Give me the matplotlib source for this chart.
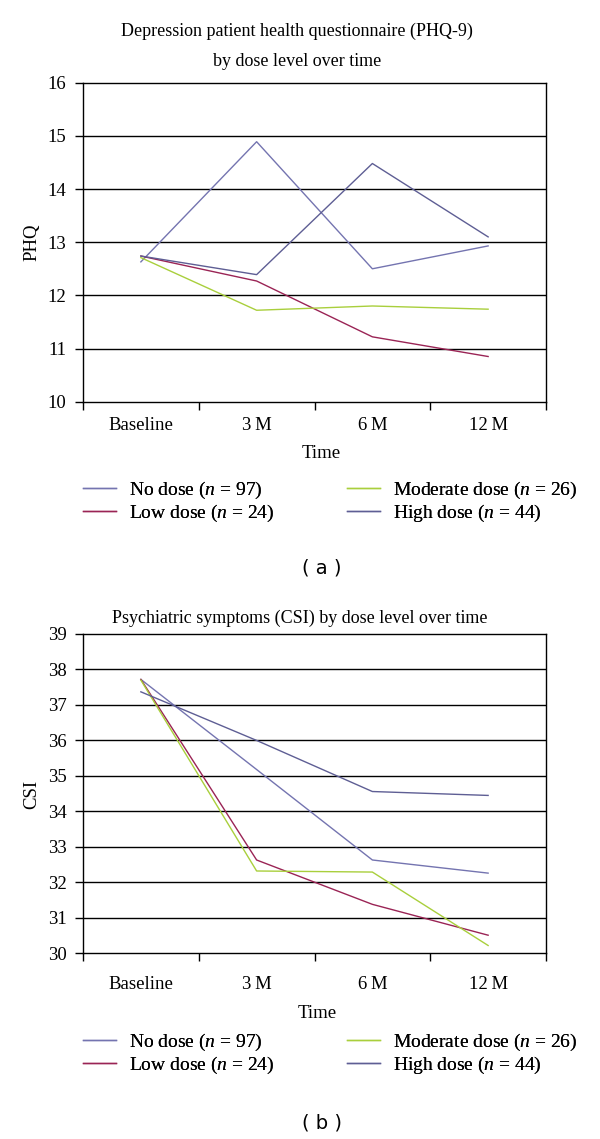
import matplotlib
matplotlib.use("Agg")
import matplotlib.pyplot as plt

plt.rcParams['font.family'] = ['Liberation Serif', 'DejaVu Serif']
plt.rcParams['mathtext.fontset'] = 'custom'
plt.rcParams['mathtext.rm'] = 'Liberation Serif'
plt.rcParams['mathtext.it'] = 'Liberation Serif:italic'

# ---- data ----
time_labels = ["Baseline", "3\u2009M", "6\u2009M", "12\u2009M"]
series_names = ["No dose ($n$ = 97)", "Low dose ($n$ = 24)",
                "Moderate dose ($n$ = 26)", "High dose ($n$ = 44)"]
series_colors = ["#7474b0", "#9a2455", "#a9cf3c", "#5e5e94"]

phq_no = [12.63, 14.89, 12.50, 12.93]
phq_low = [12.74, 12.27, 11.22, 10.85]
phq_mod = [12.71, 11.72, 11.80, 11.74]
phq_high = [12.74, 12.39, 14.48, 13.10]

csi_no = [37.72, 35.18, 32.63, 32.26]
csi_low = [37.72, 32.63, 31.38, 30.51]
csi_mod = [37.70, 32.32, 32.29, 30.22]
csi_high = [37.37, 36.00, 34.56, 34.45]

W, H = 600, 1139
fig = plt.figure(figsize=(W / 100, H / 100), dpi=100)
FS_TICK = 13.5
FS_LEG = 14


def px_axes(left, top, right, bottom):
    return fig.add_axes([left / W, 1 - bottom / H, (right - left) / W, (bottom - top) / H])


def fx(px):
    return px / W


def fy(py):
    return 1 - py / H


def draw_panel(ax, data, ylim, ylabel, xpad, time_y, time_x):
    x = list(range(len(time_labels)))
    handles = []
    for vals, c, name in zip(data, series_colors, series_names):
        ln, = ax.plot(x, vals, color=c, lw=1.0, label=name, zorder=3)
        handles.append(ln)
    ax.set_xlim(-0.5, len(time_labels) - 0.5)
    ax.set_ylim(*ylim)
    ax.set_yticks(range(ylim[0], ylim[1] + 1))
    for yv in range(ylim[0] + 1, ylim[1]):
        ax.axhline(yv, color="black", lw=1.0, zorder=1)
    ax.set_xticks([i - 0.5 for i in range(len(time_labels) + 1)])
    ax.set_xticklabels([])
    ax.set_xticks(x, minor=True)
    ax.set_xticklabels(time_labels, minor=True, fontsize=FS_TICK)
    ax.tick_params(axis='x', which='minor', length=0, pad=xpad)
    ax.tick_params(axis='x', which='major', direction='out', length=6, width=1)
    ax.tick_params(axis='y', direction='out', length=6, width=1, labelsize=FS_TICK, pad=6)
    for s in ax.spines.values():
        s.set_linewidth(1.0)
    fig.text(fx(time_x), fy(time_y), "Time", ha='center', va='center', fontsize=FS_TICK)
    return handles


def add_legends(handles, row_center):
    for idx, left in ((0, 83), (2, 347)):
        leg = fig.legend(handles=handles[idx:idx + 2], loc='center left',
                         bbox_to_anchor=(fx(left), fy(row_center)),
                         frameon=False, fontsize=FS_LEG, handlelength=1.7,
                         handletextpad=0.65, labelspacing=0.1, borderpad=0,
                         borderaxespad=0)
        fig.add_artist(leg)


# ---- panel (a) ----
axa = px_axes(83, 82.7, 546, 401.7)
ha = draw_panel(axa, [phq_no, phq_low, phq_mod, phq_high], (10, 16), "PHQ",
                xpad=11, time_y=453, time_x=321)
fig.text(fx(32), fy(242), "PHQ", rotation=90, ha='center', va='center', fontsize=FS_TICK)
fig.text(fx(297), fy(31), "Depression patient health questionnaire (PHQ-9)",
         ha='center', va='center', fontsize=13)
fig.text(fx(297), fy(62), "by dose level over time", ha='center', va='center', fontsize=13)
add_legends(ha, 502)
fig.text(fx(322), fy(568), "( a )", ha='center', va='center', fontsize=14,
         family='DejaVu Sans')

# ---- panel (b) ----
axb = px_axes(83, 634, 546, 953.3)
hb = draw_panel(axb, [csi_no, csi_low, csi_mod, csi_high], (30, 39), "CSI",
                xpad=16.3, time_y=1013, time_x=317)
fig.text(fx(32), fy(794), "CSI", rotation=90, ha='center', va='center', fontsize=FS_TICK)
fig.text(fx(300), fy(618), "Psychiatric symptoms (CSI) by dose level over time",
         ha='center', va='center', fontsize=13)
add_legends(hb, 1054)
fig.text(fx(322), fy(1123), "( b )", ha='center', va='center', fontsize=14,
         family='DejaVu Sans')

fig.savefig("out.png", dpi=100)
